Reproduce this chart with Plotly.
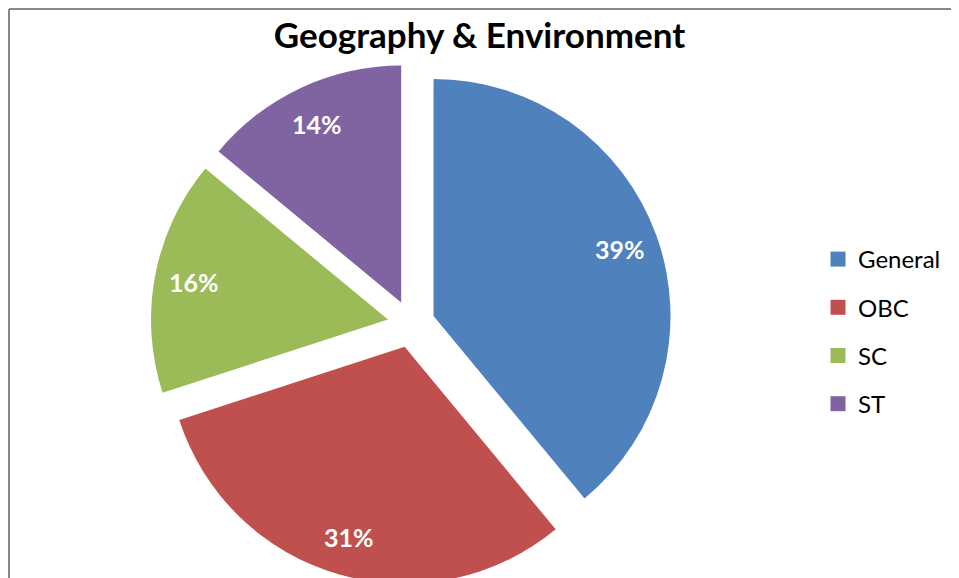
import math
import plotly.graph_objects as go

categories = ["General", "OBC", "SC", "ST"]
values = [39, 31, 16, 14]
colors = ["#4F81BD", "#C0504D", "#9BBB59", "#8064A2"]
title_text = "Geography & Environment"

# the page body adds an 8px margin, so the figure is sized to end at the
# window's right edge and runs past the bottom (the pie is cut there)
W, H = 951, 590
PULL = 0.1
# pie box in figure pixels (left, right, top, bottom)
bx0, bx1, by0, by1 = 142.6, 663.9, 55.3, 576.7

fig = go.Figure()
fig.add_trace(go.Pie(
    labels=categories, values=values, sort=False, direction="clockwise",
    rotation=0, pull=PULL, marker=dict(colors=colors, line=dict(width=0)),
    textinfo="none", hoverinfo="label+percent", showlegend=False,
    domain=dict(x=[bx0 / W, bx1 / W], y=[1 - by1 / H, 1 - by0 / H]),
))

# legend entries (one per category)
for c, col in zip(categories, colors):
    fig.add_trace(go.Scatter(
        x=[None], y=[None], mode="markers", name=c, legendgroup=c,
        marker=dict(symbol="square", size=15, color=col),
    ))

# percentage labels placed along each slice bisector
cx, cy = (bx0 + bx1) / 2, (by0 + by1) / 2
r = min(bx1 - bx0, by1 - by0) / 2 / (1 + PULL)
total = sum(values)
cum = 0
for v in values:
    th = 2 * math.pi * (cum + v / 2) / total
    cum += v
    d = (PULL + 0.835) * r
    px = cx + d * math.sin(th)
    py = cy - d * math.cos(th)
    fig.add_annotation(
        x=px / W, y=1 - py / H, xref="paper", yref="paper",
        xanchor="center", yanchor="middle",
        text=f"{round(100 * v / total)}%", showarrow=False,
        font=dict(family="Lato", size=25, color="white", weight="bold"),
    )

# chart-area frame (top and left edges visible)
fig.add_shape(type="line", xref="paper", yref="paper",
              x0=1 / W, x1=1, y0=1 - 1 / H, y1=1 - 1 / H,
              line=dict(color="#888888", width=2), layer="above")
fig.add_shape(type="line", xref="paper", yref="paper",
              x0=1 / W, x1=1 / W, y0=0, y1=1 - 1 / H,
              line=dict(color="#888888", width=2), layer="above")

fig.update_layout(
    width=W, height=H, margin=dict(l=0, r=0, t=0, b=0),
    paper_bgcolor="white", plot_bgcolor="white",
    title=dict(text=title_text, x=471.5 / W, xanchor="center",
               y=1 - 28 / H, yanchor="middle",
               font=dict(family="Lato", size=35, color="black", weight="bold")),
    xaxis=dict(visible=False, fixedrange=True),
    yaxis=dict(visible=False, fixedrange=True),
    legend=dict(x=810 / W, xanchor="left", y=1 - 323.5 / H, yanchor="middle",
                traceorder="grouped", tracegroupgap=14,
                font=dict(family="Lato", size=24, color="black"),
                bgcolor="rgba(0,0,0,0)"),
)

fig.write_html("out.html", config={"staticPlot": True})
